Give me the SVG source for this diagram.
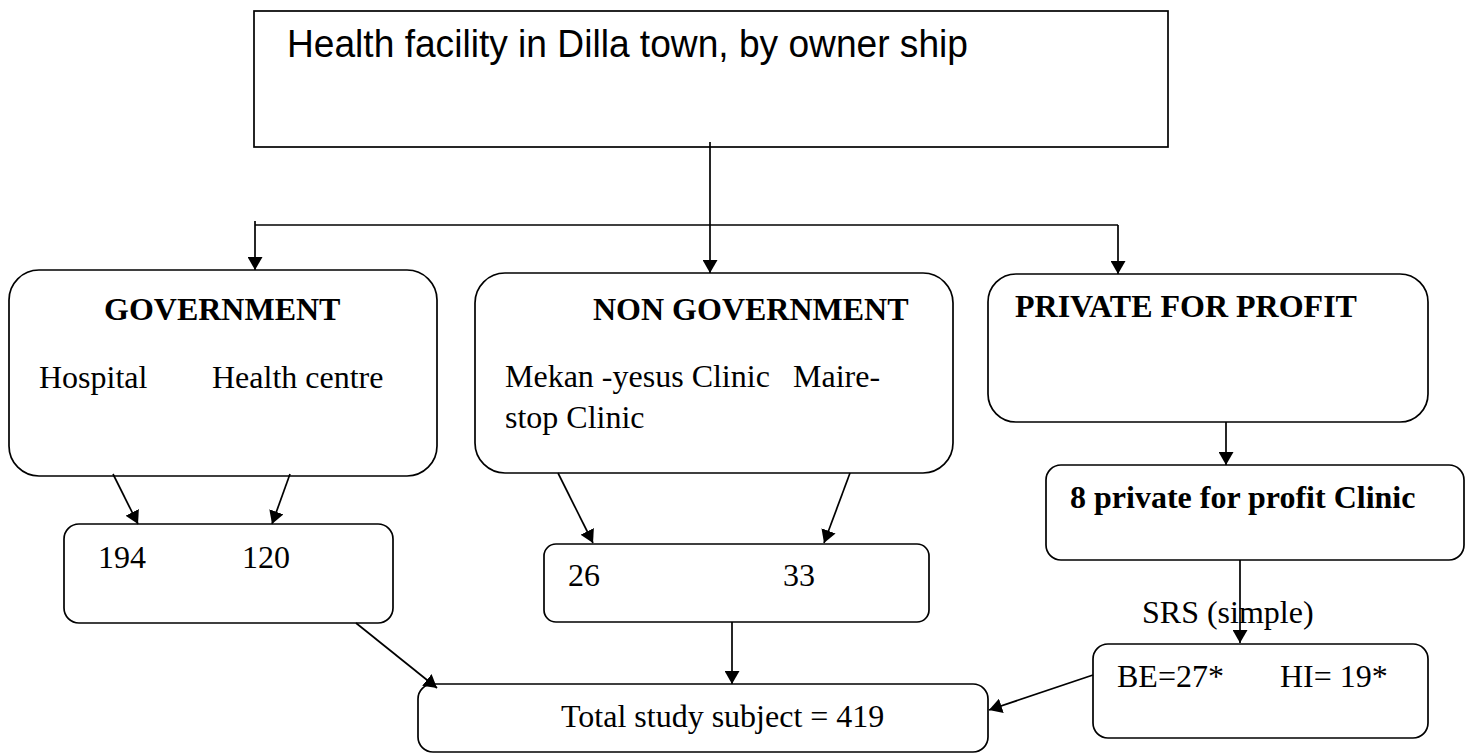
<svg xmlns="http://www.w3.org/2000/svg" width="1471" height="755" viewBox="0 0 1471 755">
<style>
.box{fill:#fff;stroke:#000;stroke-width:1.7}
.t{font-family:"Liberation Serif","Times New Roman",serif;font-size:32px;fill:#000}
.b{font-weight:bold}
.h{font-family:"Liberation Sans",Arial,sans-serif;font-size:38px;fill:#000}
.c{stroke:#000;stroke-width:1.7;fill:none}
</style>
<defs>
<marker id="ah" markerUnits="userSpaceOnUse" markerWidth="14" markerHeight="15" refX="13" refY="7.5" orient="auto">
<path d="M0,0 L13,7.5 L0,15 z" fill="#000"/>
</marker>
</defs>
<rect width="1471" height="755" fill="#fff"/>
<g id="top">
<rect class="box" x="254" y="11" width="914" height="136"/>
<text class="h" x="287" y="57" textLength="681" lengthAdjust="spacingAndGlyphs">Health facility in Dilla town, by owner ship</text>
</g>
<g id="gov">
<rect class="box" x="9" y="270" width="428" height="206" rx="30"/>
<text class="t b" x="104" y="320">GOVERNMENT</text>
<text class="t" x="39" y="388">Hospital</text>
<text class="t" x="212" y="388">Health centre</text>
</g>
<g id="nongov">
<rect class="box" x="475" y="273" width="478" height="200" rx="30"/>
<text class="t b" x="593" y="320">NON GOVERNMENT</text>
<text class="t" x="505" y="387">Mekan -yesus Clinic</text>
<text class="t" x="793" y="387">Maire-</text>
<text class="t" x="505" y="428">stop Clinic</text>
</g>
<g id="private">
<rect class="box" x="988" y="274" width="440" height="148" rx="28"/>
<text class="t b" x="1015" y="317">PRIVATE FOR PROFIT</text>
</g>
<g id="clinics">
<rect class="box" x="1046" y="465" width="418" height="95" rx="15"/>
<text class="t b" x="1070" y="508">8 private for profit Clinic</text>
</g>
<g id="govnum">
<rect class="box" x="64" y="524" width="329" height="99" rx="15"/>
<text class="t" x="98" y="568">194</text>
<text class="t" x="242" y="568">120</text>
</g>
<g id="ngnum">
<rect class="box" x="544" y="544" width="385" height="78" rx="12"/>
<text class="t" x="568" y="586">26</text>
<text class="t" x="783" y="586">33</text>
</g>
<g id="srs">
<rect class="box" x="1093" y="644" width="335" height="94" rx="15"/>
<text class="t" x="1117" y="687">BE=27*</text>
<text class="t" x="1280" y="687">HI= 19*</text>
</g>
<g id="total">
<rect class="box" x="418" y="684" width="570" height="68" rx="15"/>
<text class="t" x="561" y="727">Total study subject = 419</text>
</g>
<g id="connectors">
<line class="c" x1="710" y1="142" x2="710" y2="273" marker-end="url(#ah)"/>
<line class="c" x1="255" y1="225" x2="1118" y2="225"/>
<line class="c" x1="255" y1="221" x2="255" y2="270" marker-end="url(#ah)"/>
<line class="c" x1="1118" y1="225" x2="1118" y2="274" marker-end="url(#ah)"/>
<line class="c" x1="113" y1="474" x2="138" y2="524" marker-end="url(#ah)"/>
<line class="c" x1="290" y1="474" x2="272" y2="524" marker-end="url(#ah)"/>
<line class="c" x1="558" y1="473" x2="593" y2="543" marker-end="url(#ah)"/>
<line class="c" x1="850" y1="473" x2="824" y2="543" marker-end="url(#ah)"/>
<line class="c" x1="1226" y1="422" x2="1226" y2="465" marker-end="url(#ah)"/>
<line class="c" x1="1240" y1="560" x2="1240" y2="643" marker-end="url(#ah)"/>
<line class="c" x1="356" y1="623" x2="437" y2="688" marker-end="url(#ah)"/>
<line class="c" x1="732" y1="622" x2="732" y2="684" marker-end="url(#ah)"/>
<line class="c" x1="1093" y1="675" x2="989" y2="710" marker-end="url(#ah)"/>
</g>
<text class="t" x="1142" y="623">SRS (simple)</text>
</svg>
